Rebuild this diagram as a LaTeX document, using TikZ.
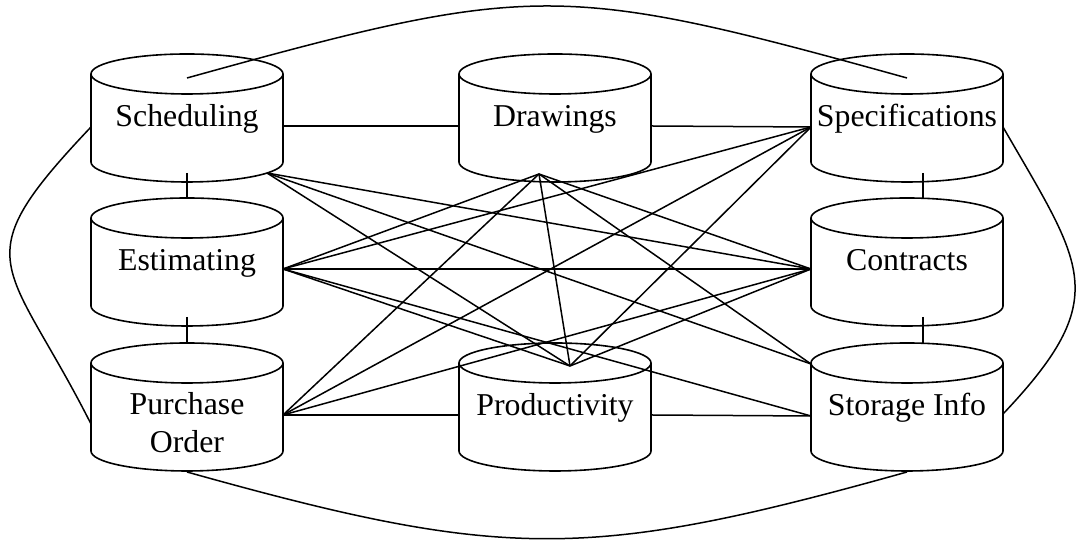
\documentclass[tikz,border=0pt]{standalone}
\usepackage{fontspec}
\setmainfont{Liberation Serif}
\begin{document}
\begin{tikzpicture}[x=0.5pt,y=0.5pt,
  db/.style={rectangle, inner sep=0pt, outer sep=0pt,
    minimum width=96pt, minimum height=64pt,
    font=\fontsize{15.9}{19}\selectfont, text height=10.5pt, text depth=1.5pt},
  cylline/.style={draw=black, line width=0.8pt},
  link/.style={draw=black, line width=0.75pt}]
\useasboundingbox (0,0) rectangle (1078,544);

% database nodes
\node[db] (S)  at (187,426) {Scheduling};
\node[db] (D)  at (555,426) {Drawings};
\node[db] (Sp) at (907,426) {Specifications};
\node[db] (E)  at (187,282) {Estimating};
\node[db] (C)  at (907,282) {Contracts};
\node[db, label={[font=\fontsize{15.9}{19}\selectfont, align=center, inner sep=0pt, yshift=-7.6pt]center:Purchase\\Order}] (PO) at (187,137) {};
\node[db] (P)  at (555,137) {Productivity};
\node[db] (SI) at (907,137) {Storage Info};

% cylinder outlines
\foreach \n in {S,D,Sp,E,C,PO,P,SI} {
  \draw[cylline] ([yshift=-10pt]\n.north west) -- ([yshift=10pt]\n.south west)
    arc[start angle=180, end angle=360, x radius=48pt, y radius=10pt]
    -- ([yshift=-10pt]\n.north east);
  \draw[cylline] ([yshift=-10pt]\n.north) ellipse [x radius=48pt, y radius=10pt];
}

% connection points
\coordinate (S-top) at ([shift={(0,40)}]S.center);
\coordinate (S-r)   at ([shift={(96,-8)}]S.center);
\coordinate (S-l)   at ([shift={(-96,-9)}]S.center);
\coordinate (S-b)   at ([shift={(0,-55)}]S.center);
\coordinate (S-br)  at ([shift={(80,-55)}]S.center);
\coordinate (D-l)   at ([shift={(-96,-8)}]D.center);
\coordinate (D-r)   at ([shift={(96,-8)}]D.center);
\coordinate (D-b)   at ([shift={(-16,-56)}]D.center);
\coordinate (Sp-top) at ([shift={(0,40)}]Sp.center);
\coordinate (Sp-l)  at ([shift={(-96,-9)}]Sp.center);
\coordinate (Sp-r)  at ([shift={(96,-9)}]Sp.center);
\coordinate (Sp-b)  at ([shift={(16,-55)}]Sp.center);
\coordinate (E-t)   at ([shift={(0,64)}]E.center);
\coordinate (E-b)   at ([shift={(0,-55)}]E.center);
\coordinate (E-r)   at ([shift={(96,-7)}]E.center);
\coordinate (C-t)   at ([shift={(16,64)}]C.center);
\coordinate (C-b)   at ([shift={(16,-55)}]C.center);
\coordinate (C-l)   at ([shift={(-96,-7)}]C.center);
\coordinate (PO-t)  at ([shift={(0,64)}]PO.center);
\coordinate (PO-r)  at ([shift={(96,-8)}]PO.center);
\coordinate (PO-l)  at ([shift={(-96,-17)}]PO.center);
\coordinate (PO-bot) at ([shift={(0,-65)}]PO.center);
\coordinate (P-l)   at ([shift={(-96,-8)}]P.center);
\coordinate (P-r)   at ([shift={(96,-8)}]P.center);
\coordinate (P-t)   at ([shift={(15,41)}]P.center);
\coordinate (SI-t)  at ([shift={(16,64)}]SI.center);
\coordinate (SI-tl) at ([shift={(-96,43)}]SI.center);
\coordinate (SI-l)  at ([shift={(-96,-9)}]SI.center);
\coordinate (SI-r)  at ([shift={(96,-7)}]SI.center);
\coordinate (SI-bot) at ([shift={(0,-65)}]SI.center);

% straight links
\draw[link] (S-r) -- (D-l);
\draw[link] (D-r) -- (Sp-l);
\draw[link] (S-b) -- (E-t);
\draw[link] (E-b) -- (PO-t);
\draw[link] (Sp-b) -- (C-t);
\draw[link] (C-b) -- (SI-t);
\draw[link] (PO-r) -- (P-l);
\draw[link] (P-r) -- (SI-l);
\draw[link] (E-r) -- (C-l);
\draw[link] (S-br) -- (C-l);
\draw[link] (S-br) -- (SI-tl);
\draw[link] (S-br) -- (P-t);
\draw[link] (D-b) -- (E-r);
\draw[link] (D-b) -- (PO-r);
\draw[link] (D-b) -- (P-t);
\draw[link] (D-b) -- (C-l);
\draw[link] (D-b) -- (SI-tl);
\draw[link] (Sp-l) -- (E-r);
\draw[link] (Sp-l) -- (PO-r);
\draw[link] (Sp-l) -- (P-t);
\draw[link] (C-l) -- (PO-r);
\draw[link] (C-l) -- (P-t);
\draw[link] (E-r) -- (SI-l);
\draw[link] (E-r) -- (P-t);

% outer curved links
\draw[link] (S-top) .. controls +(346,96) and +(-346,96) .. (Sp-top);
\draw[link] (PO-bot) .. controls +(318,-89) and +(-318,-89) .. (SI-bot);
\draw[link] (S-l) .. controls +(-130,-137) and +(-84,166) .. (PO-l);
\draw[link] (Sp-r) .. controls +(80,-139) and +(111,117) .. (SI-r);
\end{tikzpicture}
\end{document}
